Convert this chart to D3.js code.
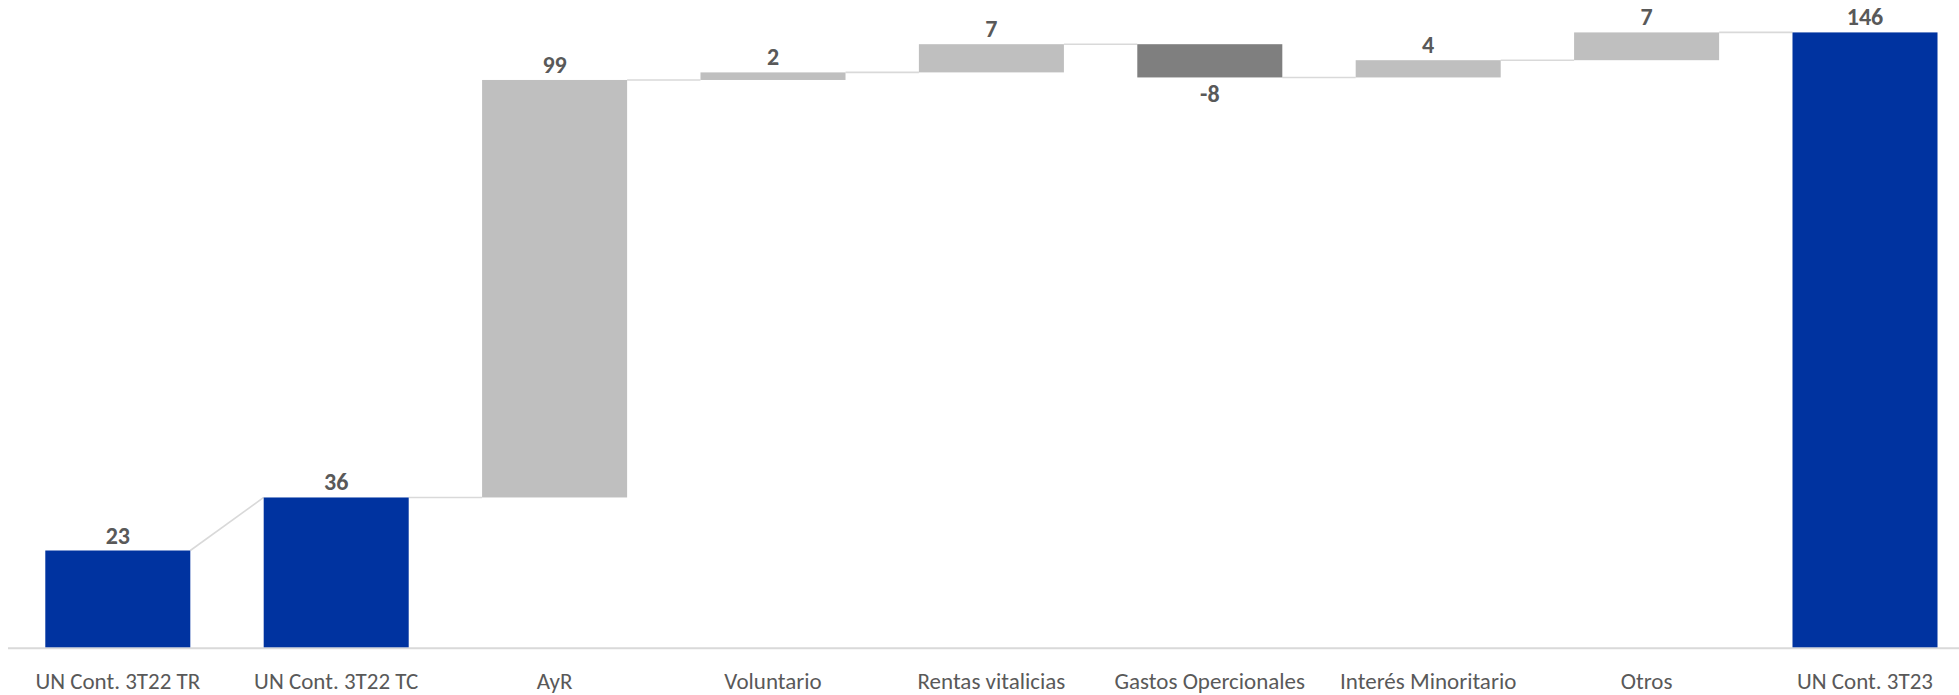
<!DOCTYPE html>
<html>
<head>
<meta charset="utf-8">
<script src="https://cdn.jsdelivr.net/npm/d3@7"></script>
<style>
  html, body { margin: 0; padding: 0; background: #fff; }
  svg { display: block; }
</style>
</head>
<body>
<svg id="chart" width="1959" height="695"></svg>
<script>
// ---- data ----
const categories = ["UN Cont. 3T22 TR", "UN Cont. 3T22 TC", "AyR", "Voluntario", "Rentas vitalicias",
                    "Gastos Opercionales", "Interés Minoritario", "Otros", "UN Cont. 3T23"];
// values: totals for total bars, deltas for step bars
const values = [23, 35.6, 99.2, 1.8, 6.7, -7.9, 4.1, 6.6, 146.1];
const kinds = ["total", "total", "step", "step", "step", "step", "step", "step", "total"];
const yTicks = [0, 150];

// ---- layout ----
const W = 1959, H = 695;
const svg = d3.select("#chart");
const font = "Carlito, Calibri, Lato, 'Open Sans', sans-serif";

const x = d3.scaleBand().domain(categories).range([8.6, 1974.2])
  .paddingInner(0.336).paddingOuter(0.168);
const y = d3.scaleLinear().domain(yTicks).range([647.3, 16]);

// compute bar extents
let cum = 0;
const bars = categories.map((c, i) => {
  let start, end;
  if (kinds[i] === "total") { start = 0; end = values[i]; cum = values[i]; }
  else { start = cum; end = cum + values[i]; cum = end; }
  return { c, i, start, end, v: values[i], kind: kinds[i] };
});

const color = d => d.kind === "total" ? "#0033A0" : (d.v < 0 ? "#7F7F7F" : "#BFBFBF");

// axis baseline
svg.append("line")
  .attr("x1", 8).attr("x2", W)
  .attr("y1", y(0) + 1).attr("y2", y(0) + 1)
  .attr("stroke", "#D9D9D9").attr("stroke-width", 2);

// connectors
for (let i = 0; i < bars.length - 1; i++) {
  const a = bars[i], b = bars[i + 1];
  const yA = a.end;
  const yB = b.kind === "total" ? b.end : b.start;
  svg.append("line")
    .attr("x1", x(a.c) + x.bandwidth()).attr("y1", y(yA))
    .attr("x2", x(b.c)).attr("y2", y(yB))
    .attr("stroke", "#D9D9D9").attr("stroke-width", 1.6);
}

// bars
svg.append("g").selectAll("rect").data(bars).join("rect")
  .attr("x", d => x(d.c))
  .attr("width", x.bandwidth())
  .attr("y", d => y(Math.max(d.start, d.end)))
  .attr("height", d => Math.abs(y(d.start) - y(d.end)))
  .attr("fill", color);

// value labels
svg.append("g").selectAll("text").data(bars).join("text")
  .attr("x", d => x(d.c) + x.bandwidth() / 2)
  .attr("y", d => d.v < 0 ? y(Math.min(d.start, d.end)) + 25 : y(Math.max(d.start, d.end)) - 7)
  .attr("text-anchor", "middle")
  .attr("font-family", font).attr("font-weight", "bold").attr("font-size", 24)
  .attr("fill", "#595959")
  .text(d => String(Math.round(d.v)));

// category axis labels
const xAxis = d3.axisBottom(x).tickSize(0).tickPadding(0);
const gx = svg.append("g").attr("transform", `translate(0, ${y(0)})`).call(xAxis);
gx.select(".domain").remove();
gx.selectAll("text")
  .attr("dy", null)
  .attr("y", 42)
  .attr("font-family", font).attr("font-size", 23)
  .attr("fill", "#595959");
</script>
</body>
</html>
